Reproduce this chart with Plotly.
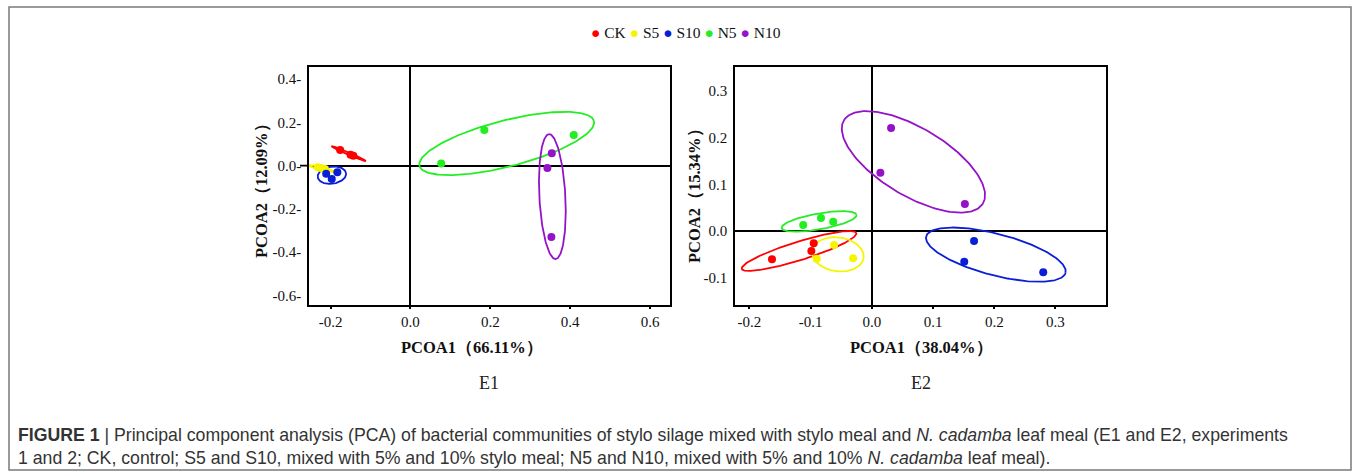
import numpy as np
import plotly.graph_objects as go

W, H = 1357, 476

groups = ["CK", "S5", "S10", "N5", "N10"]
colors = ["#ff0000", "#f5f500", "#0a1ed6", "#22ee22", "#9412c8"]

# ---- E1 sample scores (PCOA1, PCOA2), one list per group ----
e1_pc1 = [[-0.176, -0.150, -0.143], [-0.232, -0.224, -0.214], [-0.211, -0.197, -0.183],
          [0.077, 0.185, 0.409], [0.354, 0.343, 0.353]]
e1_pc2 = [[0.072, 0.050, 0.045], [-0.008, -0.011, -0.016], [-0.038, -0.062, -0.031],
          [0.010, 0.164, 0.142], [0.057, -0.011, -0.330]]
# E1 confidence ellipses: centre and conjugate semi-axis vectors (data units)
e1_ell_cx = [-0.1546, -0.2226, -0.1967, 0.2411, 0.3554]
e1_ell_cy = [0.0551, -0.0134, -0.0444, 0.1023, -0.1430]
e1_ell_ax = [0.04295, 0.03356, 0.03549, 0.21848, -0.008185]
e1_ell_ay = [-0.03466, -0.01545, 0.009216, 0.10363, 0.28849]
e1_ell_bx = [0.001204, 0.000909, -0.002965, -0.014336, -0.032537]
e1_ell_by = [0.005091, 0.006738, 0.03897, 0.10314, -0.00315]

# ---- E2 sample scores ----
e2_pc1 = [[-0.163, -0.0987, -0.0948], [-0.0899, -0.0616, -0.0306], [0.167, 0.151, 0.280],
          [-0.112, -0.083, -0.063], [0.0315, 0.014, 0.152]]
e2_pc2 = [[-0.0606, -0.0427, -0.0265], [-0.0592, -0.0299, -0.0585], [-0.0214, -0.0656, -0.0884],
          [0.0128, 0.028, 0.020], [0.2206, 0.125, 0.058]]
e2_ell_cx = [-0.1188, -0.0554, 0.2026, -0.0861, 0.068]
e2_ell_cy = [-0.0427, -0.050, -0.0506, 0.0205, 0.148]
e2_ell_ax = [0.09355, 0.04207, 0.1138, 0.06115, 0.11345]
e2_ell_ay = [0.03831, -0.00773, -0.03903, 0.01409, -0.08909]
e2_ell_bx = [-0.004544, 0.003867, 0.008626, -0.002269, 0.02861]
e2_ell_by = [0.018952, 0.035953, 0.042968, 0.016825, 0.06224]

e1_xticks = [-0.2, 0.0, 0.2, 0.4, 0.6]
e1_yticks = [0.4, 0.2, 0.0, -0.2, -0.4, -0.6]
e2_xticks = [-0.2, -0.1, 0.0, 0.1, 0.2, 0.3]
e2_yticks = [0.3, 0.2, 0.1, 0.0, -0.1]

e1_xtitle = "PCOA1（66.11%）"
e1_ytitle = "PCOA2（12.09%）"
e2_xtitle = "PCOA1（38.04%）"
e2_ytitle = "PCOA2（15.34%）"
panel_labels = ["E1", "E2"]

SERIF = "Liberation Serif, Times New Roman, serif"
SANS = "Liberation Sans, Arial, sans-serif"

fig = go.Figure()
t = np.linspace(0, 2 * np.pi, 200)


def add_panel(pc1, pc2, cx, cy, ax_, ay_, bx_, by_, xa, ya):
    for i, g in enumerate(groups):
        ex = cx[i] + np.cos(t) * ax_[i] + np.sin(t) * bx_[i]
        ey = cy[i] + np.cos(t) * ay_[i] + np.sin(t) * by_[i]
        fig.add_trace(go.Scatter(x=ex, y=ey, mode="lines", xaxis=xa, yaxis=ya,
                                 line=dict(color=colors[i], width=1.8), showlegend=False,
                                 hoverinfo="skip"))
    for i, g in enumerate(groups):
        fig.add_trace(go.Scatter(x=pc1[i], y=pc2[i], mode="markers", name=g, xaxis=xa, yaxis=ya,
                                 marker=dict(color=colors[i], size=8, line=dict(width=0)),
                                 showlegend=False))


add_panel(e1_pc1, e1_pc2, e1_ell_cx, e1_ell_cy, e1_ell_ax, e1_ell_ay, e1_ell_bx, e1_ell_by, "x", "y")
add_panel(e2_pc1, e2_pc2, e2_ell_cx, e2_ell_cy, e2_ell_ax, e2_ell_ay, e2_ell_bx, e2_ell_by, "x2", "y2")

ydom = [1 - 304.5 / H, 1 - 67 / H]
common = dict(showgrid=False, showline=True, linecolor="black", linewidth=1.6, mirror=True,
              zeroline=True, zerolinecolor="black", zerolinewidth=1.6,
              tickfont=dict(family=SERIF, size=15, color="#111"))

fig.update_layout(
    width=W, height=H, margin=dict(l=0, r=0, t=0, b=0),
    paper_bgcolor="white", plot_bgcolor="white", showlegend=False,
    xaxis=dict(domain=[309 / W, 670 / W], range=[-0.254, 0.650], tickmode="array",
               tickvals=e1_xticks, ticktext=[f"{v:.1f}" for v in e1_xticks],
               ticks="outside", ticklen=3, tickwidth=1.5, tickcolor="black", anchor="y", **common),
    yaxis=dict(domain=ydom, range=[-0.6417, 0.4556], tickmode="array",
               tickvals=e1_yticks, ticktext=[f"{v:.1f}-" for v in e1_yticks],
               ticks="", ticklabelstandoff=3, anchor="x", **common),
    xaxis2=dict(domain=[735 / W, 1105.7 / W], range=[-0.2234, 0.382], tickmode="array",
                tickvals=e2_xticks, ticktext=[f"{v:.1f}" for v in e2_xticks],
                ticks="outside", ticklen=3, tickwidth=1.5, tickcolor="black", anchor="y2", **common),
    yaxis2=dict(domain=ydom, range=[-0.1574, 0.3512], tickmode="array",
                tickvals=e2_yticks, ticktext=[f"{v:.1f}" for v in e2_yticks],
                ticks="", ticklabelstandoff=3, anchor="x2", **common),
)

# zero line extending out to the "0.0" label on E1
fig.add_shape(type="line", xref="x domain", yref="y", x0=-0.025, x1=0, y0=0, y1=0,
              line=dict(color="black", width=1.6))

# frame around the whole figure
fig.add_shape(type="rect", xref="paper", yref="paper", x0=9 / W, x1=1351 / W,
              y0=1 - 470 / H, y1=1 - 7 / H, line=dict(color="#7a7a7a", width=1.5))

title_font = dict(family=SERIF, size=16.5, color="#111")
ann = []
ann.append(dict(text=f"<b>{e1_xtitle}</b>", x=472 / W, y=1 - 347 / H, xref="paper", yref="paper",
                showarrow=False, font=title_font, xanchor="center", yanchor="middle"))
ann.append(dict(text=f"<b>{e2_xtitle}</b>", x=921 / W, y=1 - 347 / H, xref="paper", yref="paper",
                showarrow=False, font=title_font, xanchor="center", yanchor="middle"))
ann.append(dict(text=f"<b>{e1_ytitle}</b>", x=262 / W, y=1 - 187 / H, xref="paper", yref="paper",
                showarrow=False, font=title_font, textangle=-90, xanchor="center", yanchor="middle"))
ann.append(dict(text=f"<b>{e2_ytitle}</b>", x=694 / W, y=1 - 192 / H, xref="paper", yref="paper",
                showarrow=False, font=title_font, textangle=-90, xanchor="center", yanchor="middle"))
for lbl, xc in zip(panel_labels, [489, 921]):
    ann.append(dict(text=lbl, x=xc / W, y=1 - 383 / H, xref="paper", yref="paper",
                    showarrow=False, font=dict(family=SERIF, size=18, color="#222"),
                    xanchor="center", yanchor="middle"))

legend_text = " ".join(f"<span style='color:{c}'>●</span> {g}" for g, c in zip(groups, colors))
ann.append(dict(text=legend_text, x=686 / W, y=1 - 33 / H, xref="paper", yref="paper",
                showarrow=False, font=dict(family=SERIF, size=15.5, color="#111"),
                xanchor="center", yanchor="middle"))

cap1 = ("<b>FIGURE 1</b> | Principal component analysis (PCA) of bacterial communities of stylo silage "
        "mixed with stylo meal and <i>N. cadamba</i> leaf meal (E1 and E2, experiments")
cap2 = ("1 and 2; CK, control; S5 and S10, mixed with 5% and 10% stylo meal; N5 and N10, mixed with "
        "5% and 10% <i>N. cadamba</i> leaf meal).")
for txt, yc in zip([cap1, cap2], [435, 458]):
    ann.append(dict(text=txt, x=16 / W, y=1 - yc / H, xref="paper", yref="paper",
                    showarrow=False, font=dict(family=SANS, size=17.7, color="#333"),
                    xanchor="left", yanchor="middle"))

fig.update_layout(annotations=ann)
fig.write_html("out.html")
